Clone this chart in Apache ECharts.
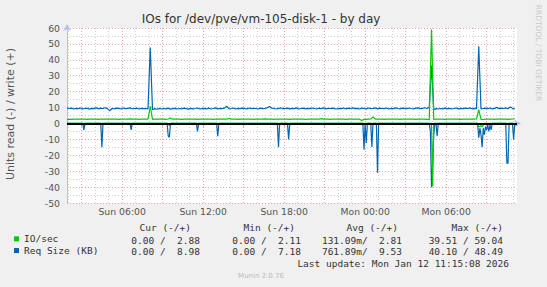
<!DOCTYPE html>
<html><head><meta charset="utf-8">
<script src="https://cdn.jsdelivr.net/npm/echarts@6/dist/echarts.min.js"></script>
<style>html,body{margin:0;padding:0;background:#f0f0f0}#c{width:547px;height:287px}</style>
</head><body><div id="c"></div>
<script>
const chartTitle = 'IOs for /dev/pve/vm-105-disk-1 - by day';
const yAxisTitle = 'Units read (-) / write (+)';
const startMinute = 115;      // Sun 01:55
const stepMinutes = 5;
const slotCount = 401;        // 01:55 Sun .. 11:15 Mon
const dayNames = ['Sun', 'Mon'];
const xTickLabels = ['Sun 06:00', 'Sun 12:00', 'Sun 18:00', 'Mon 00:00', 'Mon 06:00'];
const yMin = -50, yMax = 60, yStep = 10;

// write (+) values, one every 10 minutes from Sun 01:55
const reqWrite = [
  9.8, 9.4, 9.6, 9.1, 9.5, 9.3, 9.7, 9.2, 9.4, 9.6, 9.0, 9.5, 9.3, 9.8, 9.2, 9.6, 9.4, 9.9, 9.3, 7.9,
  9.4, 9.2, 9.6, 9.5, 9.1, 9.7, 9.3, 9.5, 9.8, 9.2, 9.4, 9.6, 9.1, 9.5, 9.3, 9.4, 9.2, 47.8, 8.6, 9.3,
  8.9, 9.5, 9.1, 9.4, 9.2, 9.6, 9.0, 9.3, 9.5, 9.1, 9.4, 9.2, 9.6, 9.3, 9.0, 9.5, 9.2, 9.4, 9.7, 9.1,
  9.3, 9.5, 9.2, 9.6, 9.1, 9.4, 9.8, 9.2, 9.5, 9.3, 9.6, 10.9, 9.2, 9.4, 9.7, 9.1, 9.5, 9.3, 9.6, 9.4,
  9.2, 9.7, 9.3, 9.5, 9.4, 9.1, 9.6, 9.3, 9.5, 9.8, 10.7, 9.6, 9.4, 9.1, 9.5, 9.7, 9.3, 9.4, 9.6, 9.2,
  9.5, 9.3, 9.8, 9.1, 9.4, 9.6, 9.2, 9.5, 9.3, 9.7, 9.4, 9.1, 9.6, 9.3, 9.8, 9.2, 9.5, 9.4, 9.6, 9.3,
  9.1, 9.5, 9.3, 9.7, 9.2, 9.6, 9.4, 9.8, 9.3, 9.5, 9.1, 9.6, 9.4, 9.2, 9.7, 9.3, 9.5, 9.8, 9.2, 9.6,
  9.4, 9.3, 9.7, 9.1, 9.5, 9.3, 9.8, 9.4, 9.2, 9.6, 9.5, 9.3, 9.7, 9.4, 9.2, 9.6, 9.8, 9.3, 9.5, 9.9,
  9.4, 10.2, 36.4, 8.7, 9.3, 9.1, 9.4, 9.2, 9.6, 9.3, 9.5, 9.1, 9.4, 9.7, 9.2, 9.5, 9.3, 9.6, 9.4, 9.8,
  9.2, 9.5, 9.3, 48.49, 9.1, 9.4, 9.6, 9.3, 9.7, 9.2, 9.5, 10.1, 9.3, 9.6, 9.4, 9.8, 9.2, 10.4, 9.5, 9.0
];
const ioWrite = [
  2.5, 2.6, 2.6, 2.7, 2.8, 2.7, 2.7, 2.8, 2.7, 2.6, 2.7, 2.8, 2.7, 2.7, 2.6, 2.8, 2.7, 2.7, 2.8, 2.7,
  2.7, 2.8, 2.7, 2.6, 2.7, 2.8, 2.7, 2.7, 2.9, 2.7, 2.8, 2.7, 2.6, 2.7, 2.8, 2.7, 2.7, 10.8, 2.6, 2.7,
  2.7, 2.8, 2.7, 2.7, 2.6, 2.8, 3.4, 2.7, 2.7, 2.8, 2.7, 2.6, 2.7, 2.8, 2.7, 2.7, 2.8, 2.7, 2.6, 2.7,
  2.8, 2.7, 2.7, 2.8, 2.7, 2.6, 2.7, 2.8, 2.7, 2.7, 2.8, 2.7, 3.1, 2.7, 2.8, 2.7, 2.6, 2.7, 2.8, 2.7,
  2.7, 2.8, 2.7, 2.6, 2.7, 2.8, 2.7, 2.7, 2.9, 2.7, 2.8, 2.7, 2.6, 2.7, 2.8, 2.7, 2.7, 2.8, 2.7, 2.6,
  2.7, 2.8, 2.7, 2.7, 2.8, 2.7, 2.6, 2.7, 2.8, 2.7, 2.7, 2.8, 2.7, 3.0, 2.7, 2.8, 2.7, 2.6, 2.7, 2.8,
  2.7, 2.7, 2.8, 2.7, 2.6, 2.7, 2.8, 2.7, 2.7, 2.7, 2.7, 1.8, 2.7, 2.6, 2.7, 2.8, 4.1, 2.7, 2.7, 2.8,
  2.7, 2.6, 2.7, 2.8, 2.7, 2.7, 2.8, 2.7, 2.6, 2.7, 2.8, 2.7, 2.7, 2.8, 2.7, 2.6, 2.7, 2.8, 2.7, 2.7,
  2.6, 2.4, 59.04, 2.5, 2.7, 2.8, 2.7, 2.7, 2.6, 2.7, 2.8, 2.7, 2.7, 2.8, 2.7, 2.6, 2.7, 2.8, 2.7, 2.7,
  2.8, 2.7, 2.9, 8.7, 2.6, 2.5, 2.7, 2.8, 2.7, 2.7, 2.6, 2.8, 2.7, 2.7, 2.8, 2.7, 2.6, 2.7, 2.8, 2.88
];
// read (-) values: 0 except these [5-minute slot, value] readings
const reqReadSpikes = [
  [15, 4], [31, 15], [57, 4], [90, 8], [91, 8.7], [116, 5], [134, 8], [188, 15], [197, 10],
  [264, 16.5], [266, 12.3], [271, 14.8], [276, 31], [323, 5], [324, 40.1], [325, 25], [326, 7], [329, 8],
  [366, 9], [367, 3], [368, 7], [369, 15], [370, 3], [371, 7], [372, 2], [373, 4], [374, 1], [375, 5],
  [376, 1], [377, 4], [391, 25], [392, 25], [397, 10]
];
const ioReadSpikes = [
  [91, 1.5], [325, 39.51], [366, 2], [367, 2], [368, 1.5], [369, 2], [370, 1]
];

const seriesNames = ['IO/sec', 'Req Size (KB)'];
const seriesColors = ['#00cc00', '#0066b3'];
const statHeaders = ['Cur (-/+)', 'Min (-/+)', 'Avg (-/+)', 'Max (-/+)'];
const ioStats = [[0, 2.88], [0, 2.11], [0.13109, 2.81], [39.51, 59.04]];
const reqStats = [[0, 8.98], [0, 7.18], [0.76189, 9.53], [40.10, 48.49]];
const lastUpdate = 'Last update: Mon Jan 12 11:15:08 2026';
const footerText = 'Munin 2.0.76';
const sideText = 'RRDTOOL / TOBI OETIKER';

// ---- build ----
const categories = [];
const minuteOf = k => (startMinute + k * stepMinutes) % 1440;
for (let k = 0; k < slotCount; k++) {
  const m = startMinute + k * stepMinutes;
  const mm = m % 1440;
  categories.push(dayNames[Math.floor(m / 1440)] + ' ' +
    String(Math.floor(mm / 60)).padStart(2, '0') + ':' + String(mm % 60).padStart(2, '0'));
}
const writePairs = arr => arr.map((v, i) => [i * 2, v]);
const readSeries = spikes => {
  const out = new Array(reqWrite.length * 2 - 1).fill(0);
  spikes.forEach(([k, v]) => { out[k] = v; });
  return out.map(v => -v);
};
const fmtNum = v => (v > 0 && v < 1) ? (v * 1000).toFixed(2) + 'm' : v.toFixed(2) + ' ';
const fmtPair = p => {
  const a = fmtNum(p[0]);
  const b = p[1].toFixed(2);
  return a.padStart(7, ' ') + '/' + b.padStart(6, ' ');
};

const mono = 'DejaVu Sans Mono';
const sans = 'DejaVu Sans';
const colRight = [200, 301, 402, 503];
const headRight = [191, 295, 398, 503];
const graphics = [
  { type: 'text', x: 261, y: 19, style: { text: chartTitle, fontFamily: sans, fontSize: 12, fill: '#333', align: 'center', verticalAlign: 'middle' } },
  { type: 'text', x: 10, y: 114, rotation: Math.PI / 2, style: { text: yAxisTitle, fontFamily: sans, fontSize: 11, fill: '#555', align: 'center', verticalAlign: 'middle' } },
  { type: 'text', x: 538, y: 53, rotation: -Math.PI / 2, style: { text: sideText, fontFamily: sans, fontSize: 7.5, fill: '#c8c8c8', align: 'center', verticalAlign: 'middle' } },
  { type: 'text', x: 509, y: 263.5, style: { text: lastUpdate, fontFamily: mono, fontSize: 9.5, fill: '#333', align: 'right', verticalAlign: 'middle' } },
  { type: 'text', x: 261, y: 276, style: { text: footerText, fontFamily: sans, fontSize: 7, fill: '#bbb', align: 'center', verticalAlign: 'middle' } }
];
statHeaders.forEach((h, c) => graphics.push({ type: 'text', x: headRight[c], y: 227.5, style: { text: h, fontFamily: mono, fontSize: 9.5, fill: '#333', align: 'right', verticalAlign: 'middle' } }));
[ioStats, reqStats].forEach((row, r) => row.forEach((p, c) => graphics.push({
  type: 'text', x: colRight[c], y: 240 + r * 11.7,
  style: { text: fmtPair(p), fontFamily: mono, fontSize: 9.5, fill: '#333', align: 'right', verticalAlign: 'middle' }
})));

const axisColor = '#b8bef0';
const majorGrid = { color: '#f1a3a3', type: [1, 2], width: 1 };
const minorGrid = { color: '#cfcfcf', type: [1, 2], width: 1 };

const lineBase = { type: 'line', showSymbol: false, symbol: 'none', animation: false, lineStyle: { width: 1.2 }, xAxisIndex: 0 };

const option = {
  backgroundColor: '#f0f0f0',
  animation: false,
  grid: { left: 67, right: 30, top: 28, bottom: 84, show: true, backgroundColor: '#ffffff', borderWidth: 0 },
  legend: {
    data: seriesNames.map(n => ({ name: n, icon: 'rect' })),
    orient: 'vertical', left: 14, top: 233, itemWidth: 5, itemHeight: 5, itemGap: 0, padding: 0,
    selectedMode: false,
    textStyle: { fontFamily: mono, fontSize: 9.5, color: '#333', lineHeight: 11.7, height: 11.7 }
  },
  xAxis: [
    {
      type: 'category', data: categories, boundaryGap: false,
      axisLine: { show: true, lineStyle: { color: axisColor }, symbol: ['none', 'arrow'], symbolSize: [6, 7], symbolOffset: [0, 4] },
      axisTick: { show: true, interval: i => minuteOf(i) % 180 === 0, length: 3, lineStyle: { color: '#f08080' } },
      axisLabel: { interval: i => xTickLabels.includes(categories[i]), color: '#555', fontFamily: sans, fontSize: 9.3, margin: 4 },
      splitLine: { show: true, interval: i => minuteOf(i) % 180 === 0, lineStyle: majorGrid }
    },
    {
      type: 'category', data: categories, boundaryGap: false, position: 'bottom',
      axisLine: { show: false }, axisTick: { show: false }, axisLabel: { show: false },
      splitLine: { show: true, interval: i => minuteOf(i) % 60 === 0 && minuteOf(i) % 180 !== 0, lineStyle: minorGrid }
    }
  ],
  yAxis: {
    type: 'value', min: yMin, max: yMax, interval: yStep,
    axisLine: { show: true, lineStyle: { color: axisColor }, symbol: ['none', 'arrow'], symbolSize: [6, 7], symbolOffset: [0, 4] },
    axisTick: { show: false },
    axisLabel: { color: '#555', fontFamily: sans, fontSize: 9.3, margin: 7 },
    splitLine: { show: true, lineStyle: majorGrid },
    minorTick: { show: false, splitNumber: 2 },
    minorSplitLine: { show: true, lineStyle: minorGrid }
  },
  graphic: graphics,
  series: [
    Object.assign({}, lineBase, { name: 'Req Size read', data: readSeries(reqReadSpikes), color: seriesColors[1], z: 2 }),
    Object.assign({}, lineBase, { name: seriesNames[1], data: writePairs(reqWrite), color: seriesColors[1], z: 2 }),
    Object.assign({}, lineBase, { name: 'IO/sec read', data: readSeries(ioReadSpikes), color: seriesColors[0], z: 3 }),
    Object.assign({}, lineBase, {
      name: seriesNames[0], data: writePairs(ioWrite), color: seriesColors[0], z: 3,
      markLine: { silent: true, symbol: 'none', label: { show: false }, lineStyle: { color: '#000', width: 2, type: 'solid' }, data: [{ yAxis: 0 }] }
    })
  ]
};
const chart = echarts.init(document.getElementById('c'), null, { renderer: 'svg' });
chart.setOption(option);
</script></body></html>
